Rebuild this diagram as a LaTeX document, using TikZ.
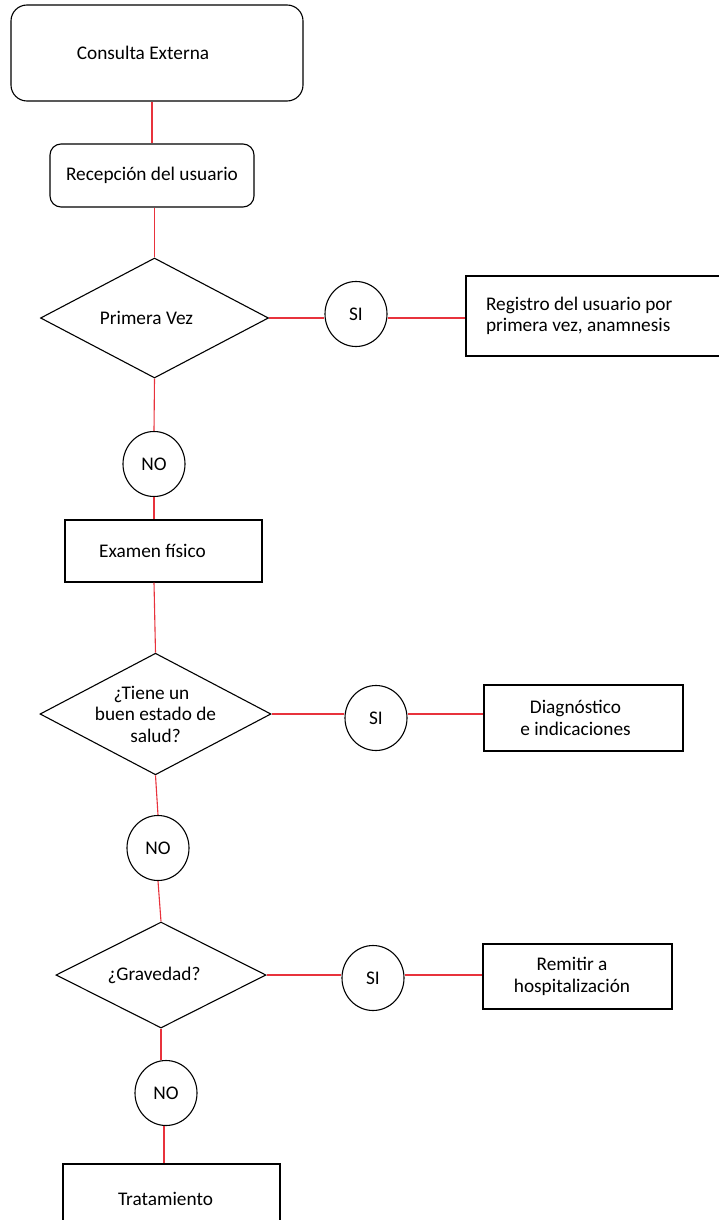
\documentclass[tikz,border=0pt]{standalone}
\usepackage{fontspec}
\setmainfont{Carlito}
\usetikzlibrary{shapes.geometric}
\definecolor{conn}{HTML}{E8323C}
\tikzset{
  base/.style={draw=black, line width=1.1pt, inner sep=0pt, font=\fontsize{19.3}{21.5}\selectfont, align=center},
  term/.style={base, rectangle, rounded corners=16pt},
  stepbox/.style={base, rectangle},
  decision/.style={base, diamond, inner sep=-14pt},
  answer/.style={base, ellipse, minimum width=62pt, minimum height=65pt},
  link/.style={draw=conn, line width=1.1pt}
}
\begin{document}
\begin{tikzpicture}[x=1pt,y=-1pt]
\useasboundingbox (0,0) rectangle (719,1220);
% nodes
\node[term, minimum width=292pt, minimum height=96pt] (consulta) at (157,53) {\hspace*{-28pt}Consulta Externa};
\node[term, rounded corners=11pt, minimum width=204pt, minimum height=63pt] (recepcion) at (152,175.5) {Recepción del usuario};
\node[decision, minimum width=228pt, minimum height=120pt] (primera) at (154.5,318) {\hspace*{-16pt}Primera Vez};
\node[answer] (si1) at (356,314) {SI};
\node[stepbox, minimum width=258pt, minimum height=80pt, text width=218pt, align=flush left] (registro) at (595,316) {Registro del usuario por\\primera vez, anamnesis};
\node[answer] (no1) at (154,464) {NO};
\node[stepbox, minimum width=197pt, minimum height=62pt] (examen) at (163.5,551) {\hspace*{-22pt}Examen físico};
\node[decision, minimum width=231pt, minimum height=117pt] (salud) at (155.5,714) {\hspace*{-8pt}¿Tiene un\\buen estado de\\salud?};
\node[answer] (si2) at (376,718) {SI};
\node[stepbox, minimum width=199pt, minimum height=66pt] (diag) at (583.5,718) {\hspace*{-16pt}Diagnóstico\\\hspace*{-16pt}e indicaciones};
\node[answer] (no2) at (158,848) {NO};
\node[decision, minimum width=210pt, minimum height=106pt] (gravedad) at (161,975) {\hspace*{-14pt}¿Gravedad?};
\node[answer] (si3) at (373,978) {SI};
\node[stepbox, minimum width=189pt, minimum height=65pt] (remitir) at (577.5,976.5) {\hspace*{-11pt}Remitir a\\\hspace*{-11pt}hospitalización};
\node[answer] (no3) at (166,1093) {NO};
\node[stepbox, minimum width=217pt, minimum height=70pt] (tratamiento) at (171.5,1199) {\hspace*{-12pt}Tratamiento};
% connectors
\draw[link] (consulta.south -| recepcion.north) -- (recepcion.north);
\draw[link] (recepcion.south -| primera.north) -- (primera.north);
\draw[link] (primera.east) -- (si1.west |- primera.east);
\draw[link] (si1.east |- primera.east) -- (registro.west |- primera.east);
\draw[link] (primera.south) -- (no1.north);
\draw[link] (no1.south) -- (examen.north -| no1.south);
\draw[link] (examen.south -| no1.south) -- (salud.north);
\draw[link] (salud.east) -- (si2.west |- salud.east);
\draw[link] (si2.east |- salud.east) -- (diag.west |- salud.east);
\draw[link] (salud.south) -- (no2.north);
\draw[link] (no2.south) -- (gravedad.north);
\draw[link] (gravedad.east) -- (si3.west |- gravedad.east);
\draw[link] (si3.east |- gravedad.east) -- (remitir.west |- gravedad.east);
\draw[link] (gravedad.south) -- (no3.north -| gravedad.south);
\draw[link] ([xshift=-2pt]no3.south) -- ([xshift=-2pt]no3.south |- tratamiento.north);
\end{tikzpicture}
\end{document}
